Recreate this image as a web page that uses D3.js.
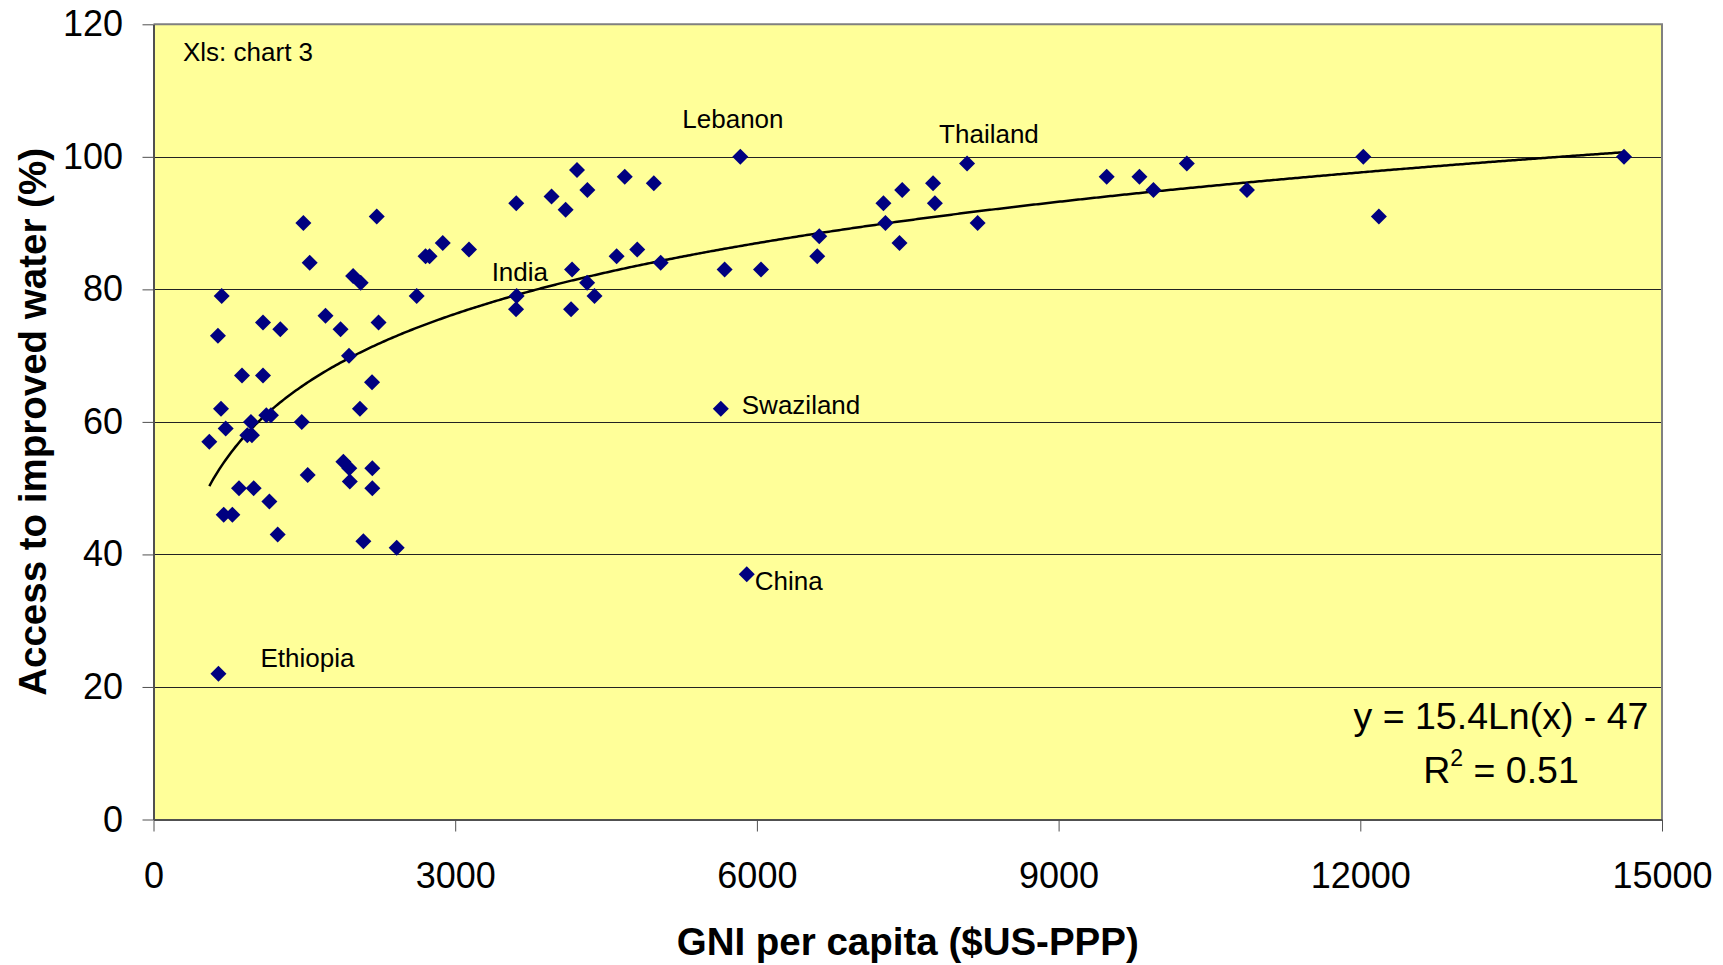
<!DOCTYPE html>
<html>
<head>
<meta charset="utf-8">
<script src="https://cdn.jsdelivr.net/npm/d3@7"></script>
<style>
  html, body { margin: 0; padding: 0; background: #fff; }
  svg { display: block; font-family: "Liberation Sans", Arial, sans-serif; }
</style>
</head>
<body>
<div id="chart"></div>
<script>
// GNI per capita ($US-PPP) and access to improved water (%)
const gni = [
  555, 641, 646, 671, 678, 698, 718, 784, 850, 880,
  933, 969, 979, 996, 1089, 1089, 1122, 1152, 1168, 1235,
  1261, 1474, 1490, 1533, 1553, 1710, 1860, 1888, 1944, 1947,
  1952, 1985, 2060, 2053, 2087, 2173, 2176, 2176, 2220, 2238,
  2418, 2617, 2705, 2745, 2876, 3137, 3607, 3611, 3605, 3958,
  4098, 4211, 4162, 4152, 4314, 4312, 4385, 4605, 4686, 4810,
  4975, 5043, 5641, 5679, 5835, 5899, 6041, 6600, 6620, 7258,
  7278, 7418, 7445, 7752, 7770, 8090, 8195, 9478, 9804, 9943,
  10275, 10873, 12030, 12185, 14622
]
const water = [
  57, 73, 22, 62, 79, 46, 59, 46, 50, 67,
  58, 60, 58, 50, 75, 67, 61, 48, 61, 43,
  74, 60, 90, 52, 84, 76, 74, 54, 70, 53,
  51, 82, 81, 62, 42, 66, 53, 50, 91, 75,
  41, 79, 85, 85, 87, 86, 93, 79, 77, 94,
  92, 98, 83, 77, 95, 81, 79, 85, 97, 86,
  96, 84, 62, 83, 100, 37, 83, 85, 88, 93,
  90, 87, 95, 96, 93, 99, 90, 97, 97, 95,
  99, 95, 100, 91, 100
]

// labelled countries
const labelNames = ['Lebanon', 'Thailand', 'India', 'Swaziland', 'China', 'Ethiopia']
const labelGni = [5835, 8090, 3611, 5641, 5899, 646]
const labelWater = [100, 99, 79, 62, 37, 22]

const xTicks = [0, 3000, 6000, 9000, 12000, 15000]
const yTicks = [0, 20, 40, 60, 80, 100, 120]

// logarithmic trend line shown on the chart
const trendSlope = 15.4
const trendIntercept = -47
const trendR2 = '0.51'

// label placement relative to its point (px)
const labelOffset = {
  Lebanon: [-58, -29],
  Thailand: [-28, -20],
  India: [-25, -15],
  Swaziland: [21, 5],
  China: [8, 16],
  Ethiopia: [42, -7]
}

const width = 1723
const height = 965
const plot = { left: 153.5, right: 1662, top: 24.3, bottom: 819.5 }
const font = '"Liberation Sans", Arial, sans-serif'

const svg = d3.select('#chart')
  .append('svg')
  .attr('width', width)
  .attr('height', height)

const x = d3.scaleLinear().domain([0, 15000]).range([plot.left, plot.right])
const y = d3.scaleLinear().domain([0, 120]).range([plot.bottom, plot.top])

// plot background
svg.append('rect')
  .attr('x', plot.left)
  .attr('y', plot.top)
  .attr('width', plot.right - plot.left)
  .attr('height', plot.bottom - plot.top)
  .attr('fill', '#ffff99')

// gridlines
svg.append('g')
  .selectAll('line')
  .data(yTicks.filter(d => d > 0 && d < 120))
  .join('line')
  .attr('x1', plot.left)
  .attr('x2', plot.right)
  .attr('y1', d => Math.round(y(d)) + 0.5)
  .attr('y2', d => Math.round(y(d)) + 0.5)
  .attr('stroke', '#222')
  .attr('stroke-width', 1)

// top / right border
svg.append('path')
  .attr('d', `M${plot.left},${plot.top}H${plot.right}V${plot.bottom}`)
  .attr('fill', 'none')
  .attr('stroke', '#808080')
  .attr('stroke-width', 2)

// axes
const yAxis = svg.append('g')
  .attr('transform', `translate(${plot.left},0)`)
  .call(d3.axisLeft(y).tickValues(yTicks).tickSize(11).tickPadding(19.5).tickSizeOuter(0))
yAxis.select('.domain').attr('stroke', '#505050').attr('stroke-width', 2)
yAxis.selectAll('.tick line').attr('stroke', '#505050')
yAxis.selectAll('text').attr('font-size', 36).attr('font-family', font).attr('fill', '#000')

const xAxis = svg.append('g')
  .attr('transform', `translate(0,${plot.bottom})`)
  .call(d3.axisBottom(x).tickValues(xTicks).tickSize(12).tickPadding(31).tickSizeOuter(0).tickFormat(d3.format('d')))
xAxis.select('.domain').attr('stroke', '#505050').attr('stroke-width', 2)
xAxis.selectAll('.tick line').attr('stroke', '#505050')
xAxis.selectAll('text').attr('font-size', 36).attr('font-family', font).attr('fill', '#000')

// trend line y = a ln(x) + b over the data range
const trendX = d3.range(d3.min(gni), d3.max(gni), 20).concat([d3.max(gni)])
const line = d3.line()
  .x(d => x(d))
  .y(d => y(trendSlope * Math.log(d) + trendIntercept))
  .curve(d3.curveLinear)

svg.append('path')
  .datum(trendX)
  .attr('d', line)
  .attr('fill', 'none')
  .attr('stroke', '#000')
  .attr('stroke-width', 2.5)

// points (diamonds)
const diamond = d3.symbol().type(d3.symbolSquare).size(128)
svg.append('g')
  .selectAll('path')
  .data(gni.map((g, i) => [g, water[i]]))
  .join('path')
  .attr('d', diamond)
  .attr('transform', d => `translate(${x(d[0])},${y(d[1])}) rotate(45)`)
  .attr('fill', '#000080')

// country labels
svg.append('g')
  .selectAll('text')
  .data(labelNames)
  .join('text')
  .attr('x', (d, i) => x(labelGni[i]) + labelOffset[d][0])
  .attr('y', (d, i) => y(labelWater[i]) + labelOffset[d][1])
  .attr('font-size', 26)
  .attr('fill', '#000')
  .text(d => d)

svg.append('text')
  .attr('x', 183)
  .attr('y', 61)
  .attr('font-size', 26)
  .text('Xls: chart 3')

// equation
const eq = svg.append('g').attr('font-size', 37.5).attr('text-anchor', 'middle')
eq.append('text')
  .attr('x', 1501)
  .attr('y', 729)
  .text(`y = ${trendSlope}Ln(x) - ${Math.abs(trendIntercept)}`)
const r2 = eq.append('text')
  .attr('x', 1501)
  .attr('y', 783)
r2.append('tspan').text('R')
r2.append('tspan').attr('font-size', 23).attr('dy', -17).text('2')
r2.append('tspan').attr('dy', 17).text(` = ${trendR2}`)

// axis titles
svg.append('text')
  .attr('x', (plot.left + plot.right) / 2)
  .attr('y', 955)
  .attr('text-anchor', 'middle')
  .attr('font-size', 38.5)
  .attr('font-weight', 'bold')
  .text('GNI per capita ($US-PPP)')

svg.append('text')
  .attr('transform', `translate(46,${(plot.top + plot.bottom) / 2}) rotate(-90)`)
  .attr('text-anchor', 'middle')
  .attr('font-size', 38.5)
  .attr('font-weight', 'bold')
  .text('Access to improved water (%)')
</script>
</body>
</html>
